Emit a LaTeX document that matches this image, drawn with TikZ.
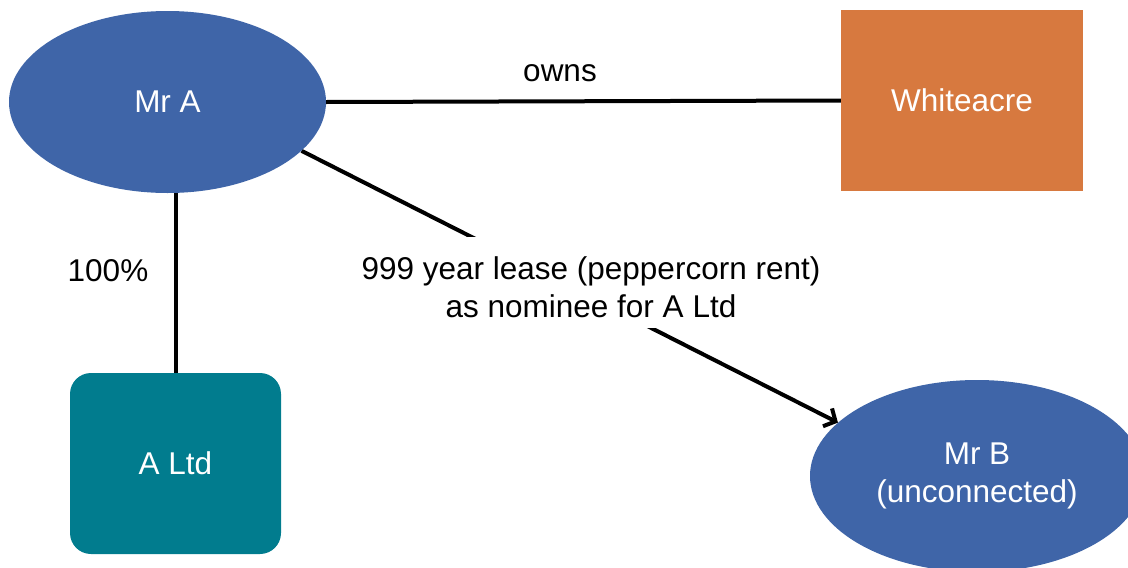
\documentclass[tikz,border=0pt]{standalone}
\usepackage{fontspec}
\setmainfont{Liberation Sans}
\usetikzlibrary{shapes.geometric,arrows.meta}
\pgfdeclarelayer{background}
\pgfsetlayers{background,main}
\definecolor{partyblue}{HTML}{3F65A8}
\definecolor{landorange}{HTML}{D7793F}
\definecolor{coteal}{HTML}{017C8E}
\tikzset{
  every node/.style={font=\fontsize{31.5}{38}\selectfont},
  person/.style={ellipse, fill=partyblue, text=white, inner sep=0pt, align=center},
  land/.style={rectangle, fill=landorange, text=white, inner sep=0pt,
    minimum width=242, minimum height=181},
  company/.style={rectangle, rounded corners=21, fill=coteal, text=white, inner sep=0pt,
    minimum width=211, minimum height=181},
  link/.style={line width=4pt, draw=black},
  lbl/.style={text=black, inner sep=2pt, align=center}
}
\begin{document}
\begin{tikzpicture}[x=1pt,y=-1pt]
  \path[use as bounding box, clip] (0,0) rectangle (1128,568);

  % parties
  \node[person, minimum width=317, minimum height=182] (mra) at (167.5,102) {Mr A};
  \node[land] (white) at (962,100.5) {Whiteacre};
  \node[company] (altd) at (175.5,463.5) {A Ltd};
  \node[person, minimum width=334, minimum height=192] (mrb) at (977,476) {Mr B\\(unconnected)};

  % ownership
  \draw[link] (mra.east) -- (white.west);
  \node[lbl] (ownslbl) at (560,73) {owns};

  % shareholding
  \draw[link] (mra.south -| altd.north) -- (altd.north);
  \node[lbl] (pctlbl) at (108,271) {100\%};

  % lease label, with the arrow running behind a white patch
  \node[lbl, inner xsep=4pt] (leaselbl) at (591,287.5)
    {999 year lease (peppercorn rent)\\as nominee for A Ltd};
  \begin{pgfonlayer}{background}
    \draw[link, -{Straight Barb[length=9pt,width=20pt]}] (mra.-20) -- (mrb.159);
    \fill[white] ([yshift=18pt]leaselbl.north west) rectangle ([yshift=-8pt]leaselbl.south east);
  \end{pgfonlayer}
\end{tikzpicture}
\end{document}
